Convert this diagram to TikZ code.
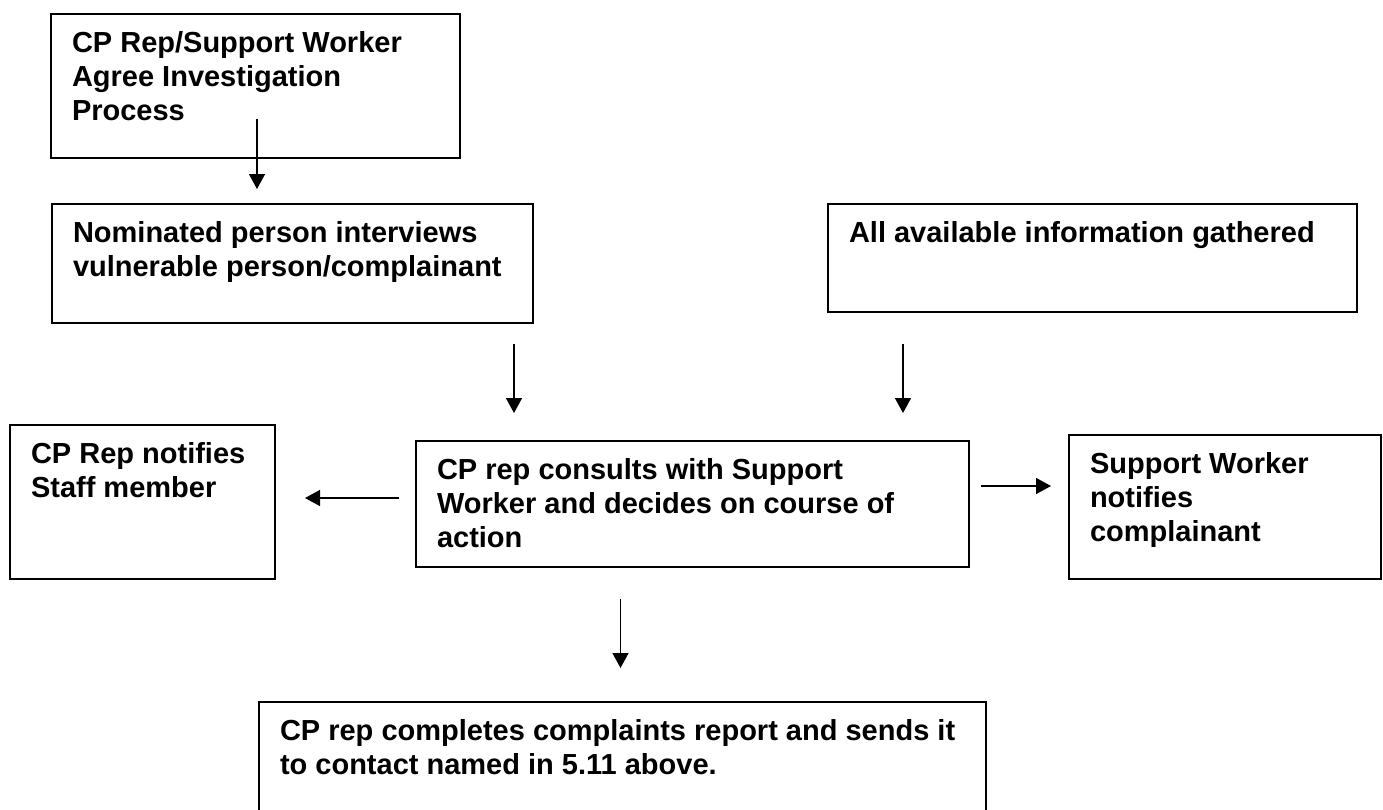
\documentclass[tikz,border=0pt]{standalone}
\usepackage{fontspec}
\setmainfont{Liberation Sans}
\usetikzlibrary{arrows.meta,calc}

% top aligned box text: height, width, lines
\newcommand{\boxlines}[3]{\parbox[t][#1][t]{#2}{\raggedright\rule{0pt}{38pt}#3}}

\begin{document}
\begin{tikzpicture}[x=1pt, y=-1pt]
    \tikzstyle{stepbox} = [rectangle, draw=black, fill=white, line width=2pt, anchor=north west, inner xsep=21pt, inner ysep=0pt, font=\bfseries\fontsize{29}{34}\selectfont]
    \tikzstyle{arr} = [line width=1.5pt, -{Triangle[length=15pt, width=16pt]}, draw=black]

    \path[use as bounding box, clip] (0,0) rectangle (1383,809);

    \node [stepbox] (agree) at (50,13) {\boxlines{144pt}{367pt}{CP Rep/Support Worker\\Agree Investigation\\Process}};
    \node [stepbox] (interview) at (51,203) {\boxlines{119pt}{439pt}{Nominated person interviews\\vulnerable person/complainant}};
    \node [stepbox] (gather) at (827,203) {\boxlines{108pt}{487pt}{All available information gathered}};
    \node [stepbox] (staff) at (9,424) {\boxlines{154pt}{223pt}{CP Rep notifies\\Staff member}};
    \node [stepbox] (consult) at (415,440) {\boxlines{126pt}{511pt}{CP rep consults with Support\\Worker and decides on course of\\action}};
    \node [stepbox] (notify) at (1068,434) {\boxlines{144pt}{270pt}{Support Worker\\notifies\\complainant}};
    \node [stepbox] (report) at (258,701) {\boxlines{140pt}{685pt}{CP rep completes complaints report and sends it\\to contact named in 5.11 above.}};

    \draw [arr, shorten <=-40pt, shorten >=14pt] ([xshift=1.5pt]agree.south) -- ([xshift=1.5pt]agree.south |- interview.north);
    \draw [arr, shorten <=20pt, shorten >=27pt] ([xshift=-20pt]interview.south east) -- ([xshift=-20pt]interview.south east |- consult.north);
    \draw [arr, shorten <=31pt, shorten >=27pt] ([xshift=76pt]gather.south west) -- ([xshift=76pt]gather.south west |- consult.north);
    \draw [arr, shorten <=16pt, shorten >=29pt] ([yshift=6pt]consult.west) -- ([yshift=6pt]consult.west -| staff.east);
    \draw [arr, shorten <=11pt, shorten >=17pt] ([yshift=18pt]consult.east) -- ([yshift=18pt]consult.east -| notify.west);
    \draw [arr, shorten <=31pt, shorten >=33pt] ([xshift=-2pt]report.north |- consult.south) -- ([xshift=-2pt]report.north);
\end{tikzpicture}
\end{document}
